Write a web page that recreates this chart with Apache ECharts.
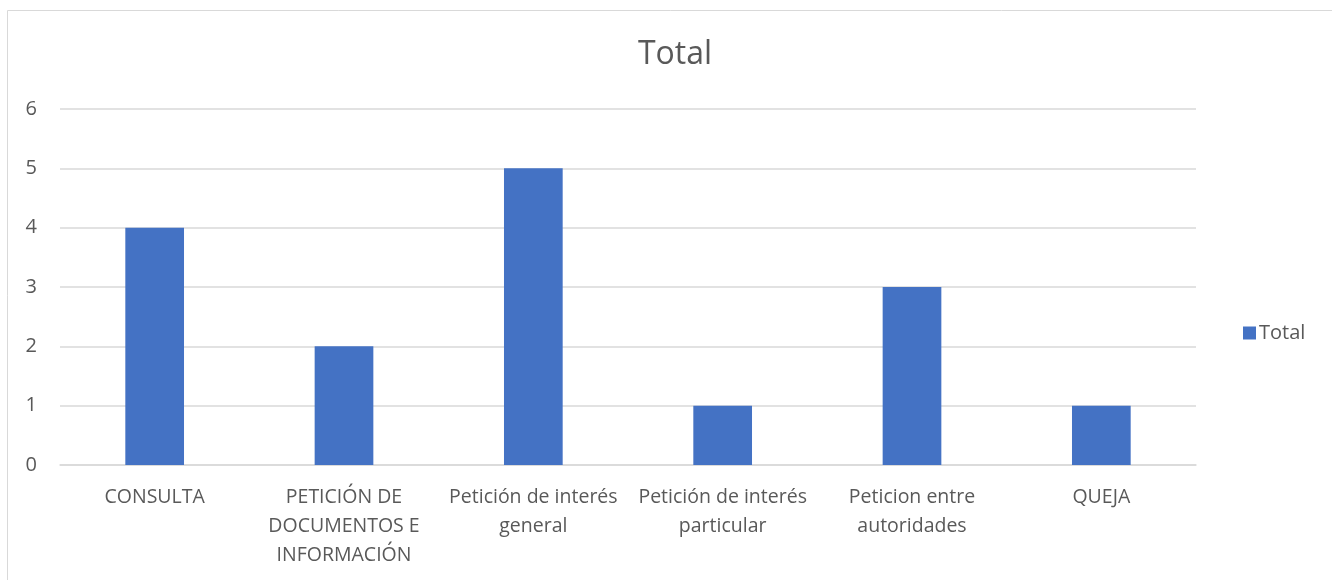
<!DOCTYPE html>
<html>
<head>
<meta charset="utf-8">
<script src="https://cdn.jsdelivr.net/npm/echarts@6/dist/echarts.min.js"></script>
<style>
  html, body { margin: 0; padding: 0; background: #ffffff; }
  #chart { width: 1332px; height: 580px; }
</style>
</head>
<body>
<div id="chart"></div>
<script>
// Request types and their counts
const categories = [
  'CONSULTA',
  'PETICIÓN DE DOCUMENTOS E INFORMACIÓN',
  'Petición de interés general',
  'Petición de interés particular',
  'Peticion entre autoridades',
  'QUEJA'
];
// Category tick labels, wrapped onto lines
const categoryTickLabels = [
  'CONSULTA',
  'PETICIÓN DE\nDOCUMENTOS E\nINFORMACIÓN',
  'Petición de interés\ngeneral',
  'Petición de interés\nparticular',
  'Peticion entre\nautoridades',
  'QUEJA'
];
const totals = [4, 2, 5, 1, 3, 1];
const yTicks = [0, 1, 2, 3, 4, 5, 6];

const textColor = '#595959';
const fontFamily = '"Open Sans", "Liberation Sans", sans-serif';

const chart = echarts.init(document.getElementById('chart'));
chart.setOption({
  animation: false,
  textStyle: { fontFamily: fontFamily },
  graphic: [{
    type: 'rect',
    shape: { x: 7.5, y: 10.5, width: 1340, height: 600 },
    style: { fill: 'none', stroke: '#d9d9d9', lineWidth: 1 },
    silent: true
  }],
  title: {
    text: 'Total',
    left: 670,
    textAlign: 'center',
    top: 34,
    textStyle: { color: textColor, fontSize: 32, fontWeight: 'normal', fontFamily: fontFamily }
  },
  legend: {
    data: ['Total'],
    orient: 'vertical',
    left: 1238,
    top: 318,
    itemWidth: 13,
    itemHeight: 13,
    itemGap: 8,
    icon: 'rect',
    textStyle: { color: textColor, fontSize: 20, fontFamily: fontFamily, padding: [0, 0, 0, -2] }
  },
  grid: { left: 60, right: 136, top: 109, bottom: 115, containLabel: false },
  xAxis: {
    type: 'category',
    data: categories,
    axisLine: { lineStyle: { color: '#d9d9d9', width: 1.5 } },
    axisTick: { show: false },
    axisLabel: {
      color: textColor,
      fontSize: 19.5,
      lineHeight: 29,
      margin: 18,
      interval: 0,
      hideOverlap: false,
      formatter: (value, index) => categoryTickLabels[index],
      fontFamily: fontFamily
    }
  },
  yAxis: {
    type: 'value',
    min: yTicks[0],
    max: yTicks[yTicks.length - 1],
    interval: 1,
    axisLine: { show: false },
    axisTick: { show: false },
    splitLine: { lineStyle: { color: '#d9d9d9', width: 1.5 } },
    axisLabel: { color: textColor, fontSize: 20, margin: 23, fontFamily: fontFamily }
  },
  series: [{
    name: 'Total',
    type: 'bar',
    data: totals,
    barWidth: '31%',
    itemStyle: { color: '#4472c4' }
  }]
});
</script>
</body>
</html>
